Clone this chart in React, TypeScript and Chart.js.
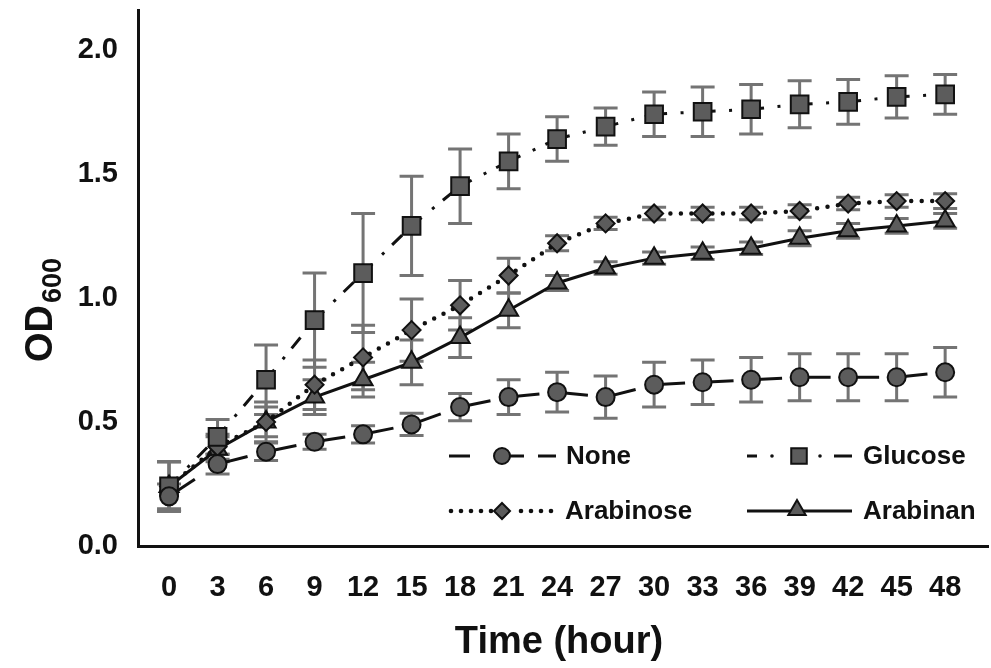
import React, { useEffect, useRef } from 'react';
import { Chart, registerables } from 'chart.js';

Chart.register(...registerables);

// ---- data ----
const hours = [0, 3, 6, 9, 12, 15, 18, 21, 24, 27, 30, 33, 36, 39, 42, 45, 48];

const noneValues = [0.2, 0.33, 0.38, 0.42, 0.45, 0.49, 0.56, 0.6, 0.62, 0.6, 0.65, 0.66, 0.67, 0.68, 0.68, 0.68, 0.7];
const noneErrors = [0.05, 0.04, 0.035, 0.03, 0.035, 0.045, 0.055, 0.07, 0.08, 0.085, 0.09, 0.09, 0.09, 0.095, 0.095, 0.095, 0.1];

const glucoseValues = [0.24, 0.44, 0.67, 0.91, 1.1, 1.29, 1.45, 1.55, 1.64, 1.69, 1.74, 1.75, 1.76, 1.78, 1.79, 1.81, 1.82];
const glucoseErrors = [0.1, 0.07, 0.14, 0.19, 0.24, 0.2, 0.15, 0.11, 0.09, 0.075, 0.09, 0.1, 0.1, 0.095, 0.09, 0.085, 0.08];

const arabinoseValues = [0.24, 0.4, 0.5, 0.65, 0.76, 0.87, 0.97, 1.09, 1.22, 1.3, 1.34, 1.34, 1.34, 1.35, 1.38, 1.39, 1.39];
const arabinoseErrors = [0.1, 0.05, 0.08, 0.1, 0.13, 0.125, 0.1, 0.07, 0.03, 0.025, 0.025, 0.025, 0.025, 0.025, 0.025, 0.025, 0.03];

const arabinanValues = [0.24, 0.39, 0.5, 0.6, 0.67, 0.74, 0.84, 0.95, 1.06, 1.12, 1.16, 1.18, 1.2, 1.24, 1.27, 1.29, 1.31];
const arabinanErrors = [0.1, 0.05, 0.06, 0.07, 0.07, 0.09, 0.08, 0.07, 0.03, 0.025, 0.025, 0.025, 0.025, 0.03, 0.03, 0.03, 0.03];

const seriesNames = ['None', 'Glucose', 'Arabinose', 'Arabinan'];
const yTicks = [0, 0.5, 1.0, 1.5, 2.0];

const FONT = '"Liberation Sans", Arial, sans-serif';
const MARKER_FILL = '#5c5c5c';
const ERR_COLOR = '#747474';

function drawMarker(ctx: CanvasRenderingContext2D, style: string, x: number, y: number, r: number) {
  ctx.save();
  ctx.setLineDash([]);
  ctx.fillStyle = MARKER_FILL;
  ctx.strokeStyle = '#111';
  ctx.lineWidth = 2;
  ctx.beginPath();
  if (style === 'circle') {
    ctx.arc(x, y, r, 0, Math.PI * 2);
  } else if (style === 'rect') {
    const s = r * Math.SQRT1_2;
    ctx.rect(x - s, y - s, 2 * s, 2 * s);
  } else if (style === 'rectRot') {
    ctx.moveTo(x, y - r);
    ctx.lineTo(x + r, y);
    ctx.lineTo(x, y + r);
    ctx.lineTo(x - r, y);
    ctx.closePath();
  } else {
    for (let k = 0; k < 3; k++) {
      const a = -Math.PI / 2 + (k * 2 * Math.PI) / 3;
      const px = x + Math.cos(a) * r;
      const py = y + Math.sin(a) * r;
      if (k === 0) ctx.moveTo(px, py);
      else ctx.lineTo(px, py);
    }
    ctx.closePath();
  }
  ctx.fill();
  ctx.stroke();
  ctx.restore();
}

const errorBarPlugin = {
  id: 'errorBars',
  beforeDatasetsDraw(chart: any) {
    const ctx = chart.ctx as CanvasRenderingContext2D;
    const yScale = chart.scales.y;
    const errs = [noneErrors, glucoseErrors, arabinoseErrors, arabinanErrors];
    const vals = [noneValues, glucoseValues, arabinoseValues, arabinanValues];
    ctx.save();
    ctx.strokeStyle = ERR_COLOR;
    ctx.lineWidth = 3;
    ctx.setLineDash([]);
    chart.data.datasets.forEach((_ds: any, i: number) => {
      const meta = chart.getDatasetMeta(i);
      meta.data.forEach((pt: any, j: number) => {
        const x = pt.x;
        const top = yScale.getPixelForValue(vals[i][j] + errs[i][j]);
        const bot = yScale.getPixelForValue(vals[i][j] - errs[i][j]);
        ctx.beginPath();
        ctx.moveTo(x, top);
        ctx.lineTo(x, bot);
        ctx.moveTo(x - 12, top);
        ctx.lineTo(x + 12, top);
        ctx.moveTo(x - 12, bot);
        ctx.lineTo(x + 12, bot);
        ctx.stroke();
      });
    });
    ctx.restore();
  },
};

const titlesPlugin = {
  id: 'titles',
  afterDraw(chart: any) {
    const ctx = chart.ctx as CanvasRenderingContext2D;
    const area = chart.chartArea;
    ctx.save();
    ctx.fillStyle = '#111';
    // x title
    ctx.font = `bold 38px ${FONT}`;
    ctx.textAlign = 'center';
    ctx.textBaseline = 'middle';
    ctx.fillText('Time (hour)', area.left + 421, 643);
    // y title OD600 (rotated)
    ctx.translate(52, 362);
    ctx.rotate(-Math.PI / 2);
    ctx.textAlign = 'left';
    ctx.textBaseline = 'alphabetic';
    ctx.font = `bold 38px ${FONT}`;
    ctx.fillText('OD', 0, 0);
    const w = ctx.measureText('OD').width;
    ctx.font = `bold 27px ${FONT}`;
    ctx.fillText('600', w + 2, 9);
    ctx.restore();
  },
};

const legendPlugin = {
  id: 'customLegend',
  afterDraw(chart: any) {
    const ctx = chart.ctx as CanvasRenderingContext2D;
    const a = chart.chartArea;
    const L = a.left;
    const B = a.bottom;
    const row1 = B - 90;
    const row2 = B - 35;
    ctx.save();
    ctx.strokeStyle = '#111';
    ctx.lineCap = 'butt';
    const seg = (x0: number, x1: number, y: number, w: number) => {
      ctx.lineWidth = w;
      ctx.beginPath();
      ctx.moveTo(x0, y);
      ctx.lineTo(x1, y);
      ctx.stroke();
    };
    const dot = (x: number, y: number, r: number) => {
      ctx.fillStyle = '#111';
      ctx.beginPath();
      ctx.arc(x, y, r, 0, Math.PI * 2);
      ctx.fill();
    };
    // None
    seg(L + 311, L + 332, row1, 3);
    seg(L + 372, L + 386, row1, 3);
    seg(L + 400, L + 418, row1, 3);
    drawMarker(ctx, 'circle', L + 364, row1, 8);
    // Glucose
    seg(L + 609, L + 619, row1, 3);
    dot(L + 634, row1, 1.8);
    drawMarker(ctx, 'rect', L + 661, row1, 11);
    dot(L + 682, row1, 1.8);
    seg(L + 696, L + 714, row1, 3);
    // Arabinose
    for (let x = L + 313; x <= L + 414; x += 10) {
      if (Math.abs(x - (L + 364)) > 10) dot(x, row2, 2.3);
    }
    drawMarker(ctx, 'rectRot', L + 364, row2, 8);
    // Arabinan
    seg(L + 609, L + 714, row2, 3);
    drawMarker(ctx, 'triangle', L + 659, row2 - 1, 10);

    ctx.fillStyle = '#111';
    ctx.font = `bold 26px ${FONT}`;
    ctx.textAlign = 'left';
    ctx.textBaseline = 'middle';
    ctx.fillText(seriesNames[0], L + 428, row1 + 1);
    ctx.fillText(seriesNames[1], L + 725, row1 + 1);
    ctx.fillText(seriesNames[2], L + 427, row2 + 1);
    ctx.fillText(seriesNames[3], L + 725, row2 + 1);
    ctx.restore();
  },
};

export default function App() {
  const ref = useRef<HTMLCanvasElement>(null);

  useEffect(() => {
    const canvas = ref.current;
    if (!canvas) return;
    const pts = (vals: number[]) => hours.map((h, i) => ({ x: h, y: vals[i] }));
    const uniqueSeg = (ctx: any) => ctx.p0DataIndex * 0.001;

    const chart = new Chart(canvas, {
      type: 'line',
      data: {
        datasets: [
          {
            label: seriesNames[0],
            data: pts(noneValues),
            borderColor: '#111',
            borderWidth: 3,
            borderDash: [31, 100],
            segment: { borderDashOffset: uniqueSeg },
            pointStyle: 'circle',
            pointRadius: 9,
            pointBackgroundColor: MARKER_FILL,
            pointBorderColor: '#111',
            pointBorderWidth: 2,
            tension: 0,
          },
          {
            label: seriesNames[1],
            data: pts(glucoseValues),
            borderColor: '#111',
            borderWidth: 3,
            borderDash: [13, 13.5, 3, 11, 14, 100],
            segment: { borderDashOffset: uniqueSeg },
            pointStyle: 'rect',
            pointRadius: 12.5,
            pointBackgroundColor: MARKER_FILL,
            pointBorderColor: '#111',
            pointBorderWidth: 2,
            tension: 0,
          },
          {
            label: seriesNames[2],
            data: pts(arabinoseValues),
            borderColor: '#111',
            borderWidth: 4.5,
            borderDash: [0, 10.5],
            borderCapStyle: 'round',
            pointStyle: 'rectRot',
            pointRadius: 9,
            pointBackgroundColor: MARKER_FILL,
            pointBorderColor: '#111',
            pointBorderWidth: 2,
            tension: 0,
          },
          {
            label: seriesNames[3],
            data: pts(arabinanValues),
            borderColor: '#111',
            borderWidth: 3,
            pointStyle: 'triangle',
            pointRadius: 11,
            pointBackgroundColor: MARKER_FILL,
            pointBorderColor: '#111',
            pointBorderWidth: 2,
            tension: 0,
          },
        ],
      } as any,
      options: {
        responsive: false,
        animation: false,
        devicePixelRatio: 1,
        layout: { autoPadding: false, padding: { top: 10, right: 3, left: 0, bottom: 0 } },
        plugins: {
          legend: { display: false },
          tooltip: { enabled: false },
        },
        scales: {
          x: {
            type: 'linear',
            min: -1.92,
            max: 50.65,
            afterBuildTicks: (s: any) => {
              s.ticks = hours.map((v) => ({ value: v }));
            },
            afterFit: (s: any) => {
              s.height = 122;
              s.paddingLeft = 0;
              s.paddingRight = 0;
              s.paddingTop = 0;
              s.paddingBottom = 0;
            },
            grid: { display: false, drawTicks: false },
            border: { display: true, color: '#111', width: 3 },
            ticks: {
              autoSkip: false,
              maxRotation: 0,
              padding: 25,
              color: '#111',
              font: { family: FONT, size: 29, weight: 'bold' },
              callback: (v: any) => String(v),
            },
          },
          y: {
            type: 'linear',
            min: 0,
            max: 2.16,
            afterBuildTicks: (s: any) => {
              s.ticks = yTicks.map((v) => ({ value: v }));
            },
            afterFit: (s: any) => {
              s.width = 138;
              s.paddingLeft = 0;
              s.paddingRight = 0;
              s.paddingTop = 0;
              s.paddingBottom = 0;
            },
            grid: { display: false, drawTicks: false },
            border: { display: true, color: '#111', width: 3 },
            ticks: {
              padding: 20,
              color: '#111',
              font: { family: FONT, size: 29, weight: 'bold' },
              callback: (v: any) => Number(v).toFixed(1),
            },
          },
        },
      } as any,
      plugins: [errorBarPlugin, titlesPlugin, legendPlugin],
    });

    return () => chart.destroy();
  }, []);

  return (
    <div style={{ position: 'absolute', left: 0, top: 0, width: 991, height: 668, background: '#fff' }}>
      <canvas ref={ref} width={991} height={668} style={{ display: 'block', width: 991, height: 668 }} />
    </div>
  );
}
